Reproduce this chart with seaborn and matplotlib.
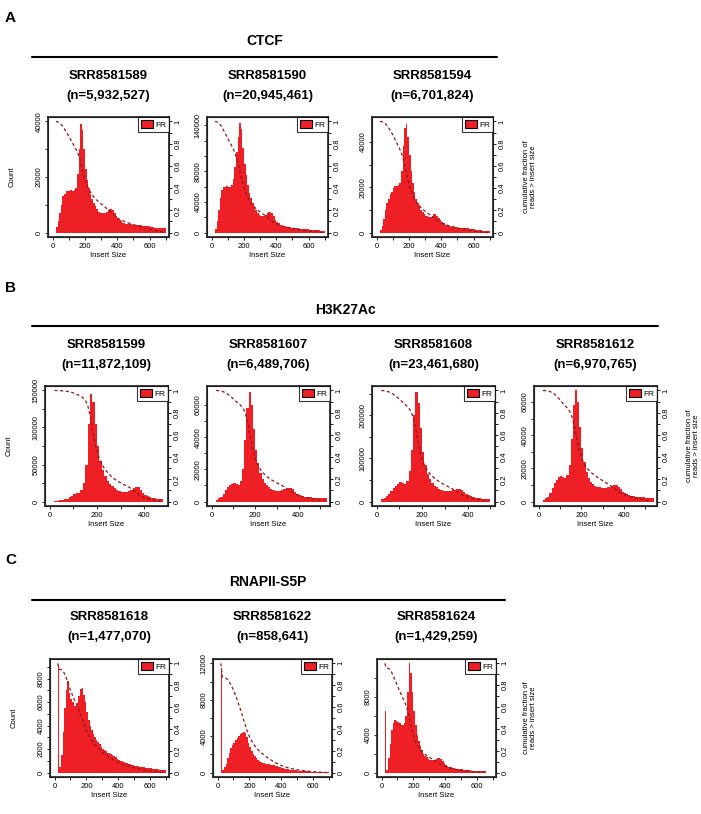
import numpy as np
import pandas as pd
import matplotlib
matplotlib.use("Agg")
import matplotlib.pyplot as plt
import seaborn as sns
from matplotlib.patches import Patch
from matplotlib.lines import Line2D

sns.set_theme(style="white")
plt.rcParams['font.family'] = ['Liberation Sans', 'DejaVu Sans']
plt.rcParams.update({"text.color": "black", "axes.labelcolor": "black",
                     "xtick.color": "black", "ytick.color": "black"})

# ---------------- data ----------------
groups = ["CTCF", "H3K27Ac", "RNAPII-S5P"]
samples = [["SRR8581589", "SRR8581590", "SRR8581594"],
           ["SRR8581599", "SRR8581607", "SRR8581608", "SRR8581612"],
           ["SRR8581618", "SRR8581622", "SRR8581624"]]
read_n = [["5,932,527", "20,945,461", "6,701,824"],
          ["11,872,109", "6,489,706", "23,461,680", "6,970,765"],
          ["1,477,070", "858,641", "1,429,259"]]

# counts per 10 bp bin starting at 20 bp
cA1 = [2,4,7,10,13,14,15,15,15,15.5,15,15.5,16,21,30,39,37,30,23,19,16,14,12,10.5,9.5,8.5,7.5,7,7,7,7.2,7.5,8,8.5,8.5,8,7,6,5.2,4.5,4,3.6,3.4,3.2,3,3,3,2.9,2.8,2.8,2.7,2.6,2.6,2.5,2.5,2.4,2.3,2.2,2,2,1.9,1.8,1.7,1.6,1.6,1.5,1.5,1.5]
cA2 = [5,15,30,45,55,60,60,61,60,60,62,70,85,105,125,143,135,110,90,75,62,52,45,38,33,29,26,23,22,22,22,23,25,27,27,25,21,17,14,12,10,9,8.5,8,7.5,7,7,6.5,6,6,5.5,5.5,5,5,4.5,4.5,4,4,3.5,3.5,3.2,3,3,2.8,2.7,2.6,2.5,2.5]
cA3 = [1,3,6,10,13,15,17,18,19.5,20.5,20.5,21,22,27,38,46,48,42,34,27,22,18,15,13,11.5,10,9,8,7.5,7.2,7,7,7.5,8,8,7.5,6.5,5.5,4.5,4,3.5,3.2,3,2.8,2.6,2.5,2.4,2.3,2.2,2.2,2.1,2,2,1.9,1.8,1.7,1.6,1.5,1.4,1.3,1.2,1.1,1,0.9,0.8,0.8,0.7,0.7]
cB1 = [1,1,1.5,2,3,4,6,8,10,11,12,16,25,50,105,145,135,105,75,55,42,34,28,24,21,18,16,14,13,12.5,13,14,16,18,20,19,16,12,9,7,6,5,4.5,4,3.5,3]
cB2 = [1,2,3,5,7,9,10,11,11.5,11,10.5,13,20,38,58,68,60,45,32,24,18,14,11.5,10,9,8,7,6.5,6.5,6.5,7,7.5,8,8.5,8.5,7.5,6,5,4,3.5,3,3,2.8,2.6,2.5,2.5,2.4,2.3,2.2,2.2,2.2]
cB3 = [5,8,12,18,25,32,36,40,45,43,40,48,70,120,200,255,230,170,115,85,65,52,43,37,33,30,27,25,24,24,25,26,27,28,28,26,22,18,15,12,10,9,8,7.5,7,6.5,6,6]
cB4 = [1,2,3,5,8,11,13,15,15.5,15,14,16,22,38,58,67,60,45,32,24,18,14,12,10.5,9.5,9,8.5,8,8,8,8.5,9,9.5,10,10,9,7.5,6,5,4.5,4,3.5,3.2,3,2.8,2.7,2.6,2.5,2.4,2.3,2.3,2.2]
cC1 = [9200,500,1500,3500,5500,7000,7800,6800,6300,6000,5700,5700,5900,6500,7100,7200,6600,6000,5200,4500,4000,3600,3300,3000,2800,2600,2400,2200,2050,1900,1800,1700,1650,1600,1500,1400,1300,1200,1100,1000,950,900,850,800,750,700,650,620,600,580,550,520,500,470,450,430,410,390,370,350,330,310,290,270,250,230,220,210]
cC2 = [11500,300,600,1000,1600,2200,2700,3000,3300,3600,3800,4000,4200,4400,4500,4300,3900,3300,2800,2400,2100,1800,1600,1400,1250,1150,1100,1050,1000,950,900,870,850,800,750,700,650,600,550,500,450,400,350,320,300,280,260,240,220,200,190,180,170,160,150,140,130,120,110,100,95,90,85,80,75,70,65,60]
cC3 = [6500,300,1500,3000,4500,5200,5500,5400,5300,5200,5000,5000,5200,6000,8500,11500,10500,8500,6500,5000,4000,3300,2800,2400,2000,1800,1600,1450,1350,1300,1300,1350,1400,1500,1500,1400,1200,1000,850,700,600,550,500,450,420,400,380,360,340,320,300,280,260,240,220,200,190,180,170,160,150,140,130,120]
counts = [[cA1, cA2, cA3], [cB1, cB2, cB3, cB4], [cC1, cC2, cC3]]
units = [1000, 1000, 1]

ytop = [[40000, 145000, 49000], [150000, 69000, 258000, 67000], [9300, 12000, 11500]]
ytick_step = [[10000, 20000, 10000], [25000, 10000, 50000, 10000], [1000, 2000, 2000]]
ytick_labels = [[[0, 20000, 40000], [0, 40000, 80000, 140000], [0, 20000, 40000]],
                [[0, 50000, 100000, 150000], [0, 20000, 40000, 60000], [0, 100000, 200000], [0, 20000, 40000, 60000]],
                [[0, 2000, 4000, 6000, 8000], [0, 4000, 8000, 12000], [0, 4000, 8000]]]
xmax = [[720, 720, 720], [500, 545, 520, 555], [720, 720, 720]]

# ---------------- layout ----------------
W, H = 701, 814
fig = plt.figure(figsize=(W / 100, H / 100), dpi=100)
RED = "#ee1f25"
DRED = "#8b1a1a"

rows = [dict(lefts=[48, 207, 372], width=121, top=117, bottom=237),
        dict(lefts=[45, 207, 372, 534], width=123, top=386, bottom=506),
        dict(lefts=[50, 213, 377], width=119, top=659, bottom=777)]
letters = [("A", 18), ("B", 288), ("C", 560)]
grp = [dict(cx=265, y=41, ly=57, x0=32, x1=497, sy=76),
       dict(cx=345, y=310, ly=326, x0=32, x1=658, sy=345),
       dict(cx=268, y=582, ly=600, x0=32, x1=505, sy=617)]
rlab_x = [530, 693, 530]

def fx(x): return x / W
def fy(y): return 1 - y / H

for r, row in enumerate(rows):
    lt, ly = letters[r]
    fig.text(fx(5), fy(ly), lt, fontsize=11, fontweight="bold", va="center")
    g = grp[r]
    fig.text(fx(g["cx"]), fy(g["y"]), groups[r], fontsize=10, fontweight="bold", ha="center", va="center")
    fig.add_artist(Line2D([fx(g["x0"]), fx(g["x1"])], [fy(g["ly"])] * 2, color="black", lw=1.5))
    for k, left in enumerate(row["lefts"]):
        ax = fig.add_axes([fx(left), fy(row["bottom"]), fx(row["width"]), (row["bottom"] - row["top"]) / H])
        vals = np.array(counts[r][k], dtype=float) * units[r]
        starts = 20 + 10 * np.arange(len(vals))
        df = pd.DataFrame({"size": starts + 5, "n": vals})
        sns.histplot(data=df, x="size", weights="n", bins=len(vals),
                     binrange=(20, 20 + 10 * len(vals)), ax=ax, color=RED,
                     alpha=1, linewidth=0, element="step", fill=True)
        for c in ax.collections:
            c.set_antialiased(False)
        top = ytop[r][k]
        ax.set_ylim(-0.04 * top, 1.04 * top)
        ax.set_xlim(-0.04 * xmax[r][k], xmax[r][k])
        step = ytick_step[r][k]
        yt = np.arange(0, top + 1, step)
        ax.set_yticks(yt)
        labs = ytick_labels[r][k]
        ax.set_yticklabels([str(int(t)) if int(t) in labs else "" for t in yt],
                           rotation=90, va="center", fontsize=5.5)
        xt = np.arange(0, xmax[r][k], 100)
        ax.set_xticks(xt)
        ax.set_xticklabels([str(t) if t % 200 == 0 else "" for t in xt], fontsize=5.5)
        ax.tick_params(length=2.5, width=0.6, pad=1.5, direction="out", left=True, bottom=True)
        ax.set_xlabel("Insert Size", fontsize=5.5, labelpad=2)
        ax.set_ylabel("Count" if k == 0 else "", fontsize=5.5, labelpad=14)
        for s in ax.spines.values():
            s.set_color("black"); s.set_linewidth(0.8)
        # cumulative fraction > insert size
        frac = 1 - np.cumsum(vals) / vals.sum()
        frac = np.insert(frac[:-1], 0, 1.0)
        ax2 = ax.twinx()
        sns.lineplot(x=starts, y=frac, ax=ax2, color=DRED, lw=0.9, linestyle=(0, (2.5, 2)))
        ax2.set_ylim(-0.04, 1.04)
        tv = np.round(np.arange(0, 1.01, 0.1), 1)
        ax2.set_yticks(tv)
        ax2.set_yticklabels([("1" if v == 1 else ("0" if v == 0 else f"{v:.1f}")) if round(v * 10) % 2 == 0 else ""
                             for v in tv], rotation=90, va="center", fontsize=5.5)
        ax2.tick_params(length=2.5, width=0.6, pad=1.5, direction="out", right=True)
        ax2.set_ylabel("")
        ax2.grid(False)
        leg = ax2.legend(handles=[Patch(facecolor=RED, edgecolor="black", lw=0.8, label="FR")],
                         loc="upper right", fontsize=6, frameon=True, fancybox=False,
                         borderaxespad=0, handlelength=1.4, handleheight=1.1, handletextpad=0.3,
                         borderpad=0.35)
        leg.get_frame().set_edgecolor("black"); leg.get_frame().set_linewidth(0.8)
        cx = left + row["width"] / 2
        fig.text(fx(cx), fy(g["sy"]), samples[r][k], fontsize=9.5, fontweight="bold", ha="center", va="center")
        fig.text(fx(cx), fy(g["sy"] + 20), f"(n={read_n[r][k]})", fontsize=9.5, fontweight="bold", ha="center", va="center")
    fig.text(fx(rlab_x[r]), fy((row["top"] + row["bottom"]) / 2), "cumulative fraction of\nreads > insert size",
             rotation=90, fontsize=5.5, ha="center", va="center", linespacing=1.1)

fig.savefig("out.png", dpi=100)
